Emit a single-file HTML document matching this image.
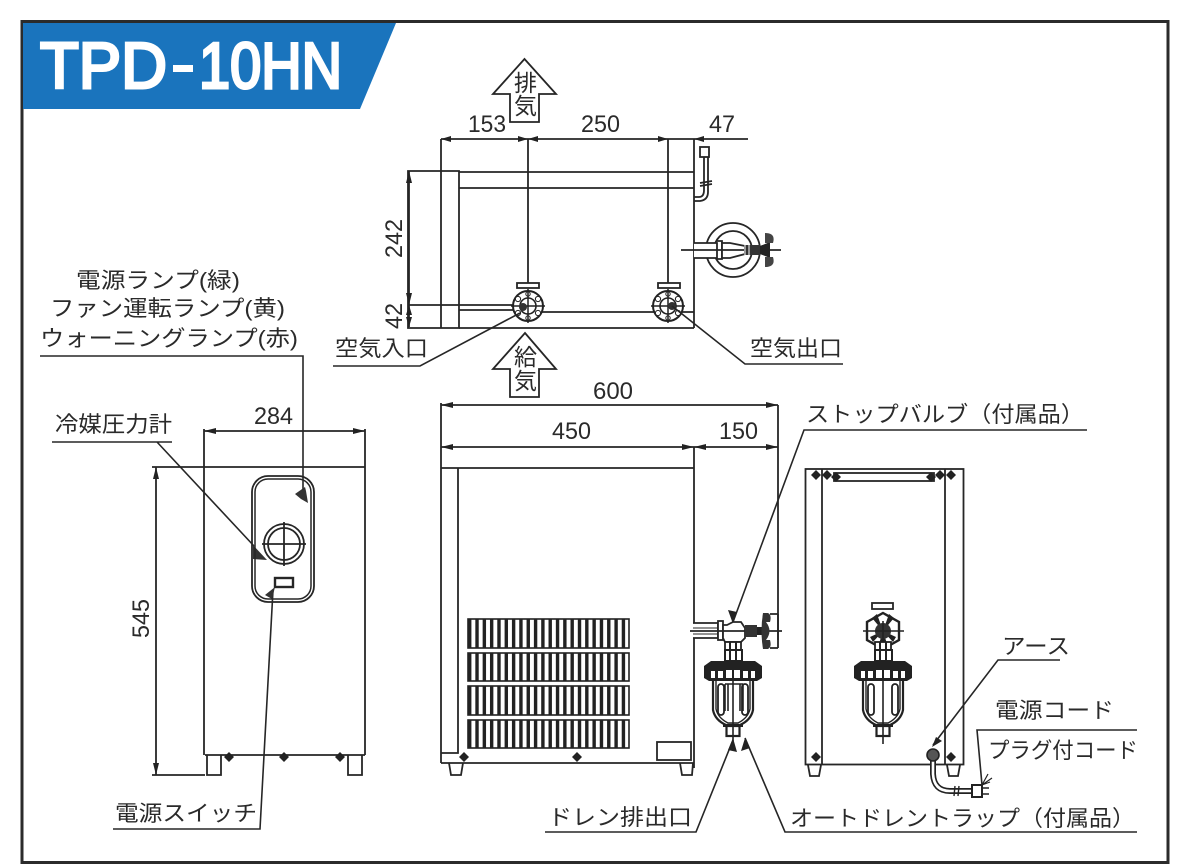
<!DOCTYPE html>
<html><head><meta charset="utf-8"><style>
html,body{margin:0;padding:0;background:#fff}
svg{display:block}
.l{fill:none;stroke:#262626;stroke-width:1.8}
.t{stroke:#262626;stroke-width:1.6;fill:none}
text{fill:#2a2a2a}
.j{font-family:"Liberation Sans","Noto Sans CJK JP",sans-serif;font-size:22px}
.n{font-family:"Liberation Sans",sans-serif;font-size:24px}
.ttl{font-family:"Liberation Sans",sans-serif;font-size:65px;fill:#fff;stroke:#fff;stroke-width:3}
</style></head><body>
<svg width="1200" height="865" viewBox="0 0 1200 865" xmlns="http://www.w3.org/2000/svg">
<defs>
<pattern id="g" x="468" y="0" width="7.32" height="10" patternUnits="userSpaceOnUse"><rect width="3.4" height="10" fill="#222"/></pattern>
<g id="d"><path d="M0-5 5 0 0 5-5 0Z" fill="#222"/></g>
<g id="bowl">
<rect x="-8" y="12" width="16" height="8" fill="#fff" stroke="#222" stroke-width="1.8"/>
<rect x="-8" y="20" width="17" height="11" fill="#fff" stroke="#222" stroke-width="2"/>
<path d="M-3 12V31M3 12V31" stroke="#222" stroke-width="2"/>
<path d="M-20 49V80Q-18 90 -7 95H7Q18 90 20 80V49" fill="#fff" stroke="#222" stroke-width="2.2"/>
<path d="M-17 49V79Q-15 88 -5 93H5Q15 88 17 79V49" fill="none" stroke="#222" stroke-width="1.4"/>
<path d="M-22 31H22L29 36V48L24 51H-24L-29 48V36Z" fill="#222"/>
<rect x="-22" y="41" width="4" height="7" fill="#fff"/><rect x="-15" y="41" width="5" height="7" fill="#fff"/><rect x="-7" y="40" width="6" height="8" fill="#fff"/><rect x="1" y="40" width="6" height="8" fill="#fff"/><rect x="10" y="41" width="5" height="7" fill="#fff"/><rect x="18" y="41" width="4" height="7" fill="#fff"/>
<rect x="-15" y="54" width="6" height="31" rx="3" fill="#fff" stroke="#222" stroke-width="1.8"/>
<rect x="9" y="54" width="6" height="31" rx="3" fill="#fff" stroke="#222" stroke-width="1.8"/>
<path d="M-10 94H10V97H-10Z" fill="#222"/>
<rect x="-6.500" y="96" width="13" height="10" fill="#fff" stroke="#222" stroke-width="2.2"/>
<path d="M0 40V114" stroke="#222" stroke-width="1.6"/>
</g>
<g id="fl">
<circle r="15" fill="#fff" stroke="#222" stroke-width="2"/>
<circle r="8" fill="none" stroke="#222" stroke-width="1.6"/>
<circle cx="-10" cy="-7" r="2.6" fill="#fff" stroke="#222"/><circle cx="10" cy="-7" r="2.6" fill="#fff" stroke="#222"/><circle cx="-10" cy="7" r="2.6" fill="#fff" stroke="#222"/><circle cx="10" cy="7" r="2.6" fill="#fff" stroke="#222"/><circle cy="-12" r="2.2" fill="#fff" stroke="#222"/><circle cy="12" r="2.2" fill="#fff" stroke="#222"/>
<path d="M-17 0H17M0-17V17" stroke="#222" stroke-width="1.5"/>
</g>
</defs>
<rect width="1200" height="865" fill="#fff"/>
<rect x="22" y="21.500" width="1146" height="841" fill="none" stroke="#2b2b2b" stroke-width="3"/>
<path d="M23 23H396L360 109H23Z" fill="#1a74bd"/>
<text class="ttl" x="40" y="88" textLength="127" lengthAdjust="spacingAndGlyphs">TPD</text>
<rect x="173" y="65" width="20" height="7" fill="#fff"/>
<text class="ttl" x="199" y="88" textLength="143" lengthAdjust="spacingAndGlyphs">10HN</text>

<!-- top view -->
<g class="l">
<path d="M408 171H459V328H408Z"/>
<path d="M441 139V328M528 139V283M668 139V283M694 139V328"/>
<path d="M459 172H694M459 188H694M459 328H694M408 305H515M459 310H515M541 312H655M681 312H694"/>
<path d="M441 139H748" />
<path d="M409 171V327"/>
<path d="M694 201H700Q708 200 708 192V156M694 197H699Q704 197 704 190V156"/>
<rect x="700" y="147" width="9" height="10" fill="#fff"/>
<path d="M700 183 712 181M700 186 712 184"/>
<path d="M524.500 59 556 94H539V122H510V94H493Z"/>
<path d="M525 333 556 369H539V397H510V369H493Z"/>
<rect x="517" y="283" width="22" height="5"/><rect x="658" y="283" width="22" height="5"/>
<circle cx="733" cy="250" r="27"/><circle cx="733" cy="250" r="19"/>
<path d="M694 243H717V258H694M717 241H722V259H717" fill="#fff"/>
<path d="M722 243H730L745 246V254L730 258H722Z" fill="#fff"/>
<path d="M681 250H781"/>
</g>
<use href="#fl" x="528" y="306"/><use href="#fl" x="668" y="306"/>
<circle cx="523" cy="307" r="4" fill="#333"/><circle cx="672" cy="306" r="4" fill="#333"/>
<path d="M744 245H760V255H744Z" fill="#333"/>
<path d="M745 245V255M749 245V255" stroke="#fff"/>
<path d="M760 246V254L770 258V242Z" fill="#222"/>
<path d="M765 233Q776 233 773 243H765ZM765 267Q776 267 773 257H765Z" fill="#444"/>
<text class="n" x="468" y="132" textLength="38" lengthAdjust="spacingAndGlyphs">153</text>
<text class="n" x="581" y="132" textLength="39" lengthAdjust="spacingAndGlyphs">250</text>
<text class="n" x="709" y="132" textLength="26" lengthAdjust="spacingAndGlyphs">47</text>
<text class="n" transform="translate(402,258) rotate(-90)" textLength="39" lengthAdjust="spacingAndGlyphs">242</text>
<text class="n" transform="translate(402,329) rotate(-90)" textLength="26" lengthAdjust="spacingAndGlyphs">42</text>
<text class="j" x="514" y="91" style="font-size:23px">排</text>
<text class="j" x="514" y="114" style="font-size:23px">気</text>
<text class="j" x="514" y="365" style="font-size:23px">給</text>
<text class="j" x="514" y="389" style="font-size:23px">気</text>
<path d="M441 139l10-3v6zM528 139l-10-3v6zM528 139l10-3v6zM668 139l-10-3v6zM694 139l10-3v6zM409 171l-3 12h6zM409 305l-3-12h6zM409 305l-3 10h6zM409 327l-3-10h6z" fill="#222"/>

<text class="j" x="76" y="288" textLength="164" lengthAdjust="spacingAndGlyphs">電源ランプ(緑)</text>
<text class="j" x="50" y="316" textLength="235" lengthAdjust="spacingAndGlyphs">ファン運転ランプ(黄)</text>
<text class="j" x="40" y="346" textLength="258" lengthAdjust="spacingAndGlyphs">ウォーニングランプ(赤)</text>
<text class="j" x="55" y="432" textLength="117" lengthAdjust="spacingAndGlyphs">冷媒圧力計</text>
<text class="j" x="335" y="356" textLength="93" lengthAdjust="spacingAndGlyphs">空気入口</text>
<text class="j" x="750" y="356" textLength="92" lengthAdjust="spacingAndGlyphs">空気出口</text>
<text class="j" x="115" y="821" textLength="142" lengthAdjust="spacingAndGlyphs">電源スイッチ</text>
<text class="j" x="806" y="422" textLength="278" lengthAdjust="spacingAndGlyphs">ストップバルブ（付属品）</text>
<text class="j" x="548" y="825" textLength="144" lengthAdjust="spacingAndGlyphs">ドレン排出口</text>
<text class="j" x="790" y="826" textLength="345" lengthAdjust="spacingAndGlyphs">オートドレントラップ（付属品）</text>
<text class="j" x="1002" y="654" textLength="68" lengthAdjust="spacingAndGlyphs">アース</text>
<text class="j" x="995" y="718" textLength="119" lengthAdjust="spacingAndGlyphs">電源コード</text>
<text class="j" x="988" y="758" textLength="150" lengthAdjust="spacingAndGlyphs">プラグ付コード</text>

<!-- leaders -->
<g class="t">
<path d="M40 356H303V490"/>
<path d="M52 442H172M157 442 254 546"/>
<path d="M113 829H260L273 590"/>
<path d="M333 366H420L520 313"/>
<path d="M843 364H745L672 306"/>
<path d="M1087 430H804L733 622"/>
<path d="M545 832H696L733 740"/>
<path d="M1137 832H785L745 738"/>
<path d="M1060 660H998L933 745"/>
<path d="M1137 730H977L982 785"/>
</g>
<path d="M253 545 267 560 253 559ZM295 494 305 487 306 491 308 503 301 499ZM265 595 275 587 272 599Z" fill="#333"/>
<path d="M733 624 728 610 737 612ZM733 738 728 750 737 752ZM745 738 741 751 750 748ZM932 747 936 737 942 741Z" fill="#222"/>

<!-- front view -->
<g class="l">
<path d="M204 429V755M365 429V755M152 467H365M205 755H365M152 775H205M156 467V775M204 431H365"/>
<path d="M207 755V775H221V755M348 755V775H362V755"/>
<rect x="252" y="476" width="62" height="126" rx="16" stroke-width="1.8"/>
<rect x="255" y="479" width="56" height="120" rx="13" stroke-width="1.5"/>
<circle cx="284" cy="544" r="20"/><circle cx="284" cy="544" r="16"/>
<path d="M262 544H306M284 522V566"/>
<rect x="275" y="578" width="18" height="9" stroke-width="2.4"/>
</g>
<path d="M156 467l-3 12h6zM156 775l-3-12h6zM204 431l12-3v6zM365 431l-12-3v6z" fill="#222"/>
<use href="#d" x="229" y="757"/><use href="#d" x="284" y="757"/><use href="#d" x="340" y="757"/>
<text class="n" x="254" y="424" textLength="39" lengthAdjust="spacingAndGlyphs">284</text>
<text class="n" transform="translate(149,638) rotate(-90)" textLength="39" lengthAdjust="spacingAndGlyphs">545</text>

<!-- side view -->
<g class="l">
<path d="M441 403V763M694 447V768M778 405V640M441 405H778M441 447H778"/>
<path d="M441 468H694M458 468V753H441M441 763H694"/>
<rect x="657" y="742" width="34" height="18"/>
<path d="M449 763 451 775H461L463 763M680 763 682 775H692L693 763"/>
</g>
<path d="M441 405l12-3v6zM778 405l-12-3v6zM441 447l12-3v6zM694 447l-12-3v6zM694 447l12-3v6zM778 447l-12-3v6z" fill="#222"/>
<use href="#d" x="464" y="757"/><use href="#d" x="577" y="757"/>
<text class="n" x="593" y="399" textLength="40" lengthAdjust="spacingAndGlyphs">600</text>
<text class="n" x="552" y="439" textLength="39" lengthAdjust="spacingAndGlyphs">450</text>
<text class="n" x="719" y="439" textLength="39" lengthAdjust="spacingAndGlyphs">150</text>
<g fill="url(#g)" stroke="#222" stroke-width="1.6">
<rect x="468" y="619" width="161" height="29"/>
<rect x="468" y="653" width="161" height="28"/>
<rect x="468" y="686" width="161" height="29"/>
<rect x="468" y="720" width="161" height="28"/>
</g>

<!-- filter with valve, side -->
<g class="l" stroke-width="2">
<path d="M693 623H718V638H693" fill="#fff"/>
<rect x="718" y="621" width="5" height="19" fill="#fff"/>
<path d="M723 625H727L733 622H741L745 628V638L741 642H725L723 638Z" fill="#fff"/>
<path d="M778 614V648"/>
<path d="M770 614H778M770 648H778"/>
<path d="M690 631H782"/>
<path d="M693 628H718M693 634H718" stroke-width="1"/>
</g>
<rect x="745" y="625" width="12" height="12" fill="#333"/>
<path d="M757 627H762V635H757Z" fill="#222"/>
<path d="M763 613H768Q772 615 770 622H766Q773 631 766 640H770Q772 647 768 649H763Q760 631 763 613Z" fill="#333"/>
<use href="#bowl" x="733" y="630"/>
<path d="M725 684V711M743 684V711M728 684V711M740 684V711" stroke="#222" stroke-width="1.6"/>
<path d="M725 684H743" stroke="#222" stroke-width="1.6"/>

<!-- rear view -->
<g class="l">
<rect x="805.500" y="469" width="158" height="295.500"/>
<path d="M822 469V764M945 469V764"/>
<rect x="834" y="473" width="100" height="8"/>
<path d="M808 765 810 776H819L821 765M947 765 949 776H958L960 765"/>
<rect x="872" y="603" width="21" height="6"/>
</g>
<use href="#d" x="816" y="475"/><use href="#d" x="827" y="475"/><use href="#d" x="836" y="477"/><use href="#d" x="951" y="475"/><use href="#d" x="940" y="475"/><use href="#d" x="931" y="477"/><use href="#d" x="816" y="757"/><use href="#d" x="951" y="757"/>
<path d="M883 613 899 622V640L883 649 867 640V622Z" fill="#fff" stroke="#222" stroke-width="2.4"/>
<path d="M883 631 872 618 877 614ZM883 631 894 618 889 614ZM883 631 870 637 873 642ZM883 631 896 637 893 642ZM883 631 878 647 888 647Z" fill="#222"/>
<circle cx="883" cy="631" r="8" fill="#333"/>
<path d="M863 631H904M883 621V641" stroke="#222" stroke-width="1.6"/>
<use href="#bowl" x="883" y="630"/>
<path d="M933 761V774Q934 791 950 791H972" fill="none" stroke="#222" stroke-width="6"/>
<path d="M933 761V774Q934 791 950 791H972" fill="none" stroke="#fff" stroke-width="2.6"/>
<circle cx="933" cy="755" r="6" fill="#555" stroke="#222" stroke-width="1.6"/>
<path d="M955 786 954 796M959 786 958 796" stroke="#222" stroke-width="1.4"/>
<rect x="972" y="785" width="10" height="12" fill="#fff" stroke="#222" stroke-width="2"/>
<path d="M982 788H989M982 794H989" stroke="#222" stroke-width="1.6"/>
<path d="M982 785 992 778M982 785 990 782M982 785 988 774" stroke="#222" stroke-width="1.2"/>
</svg>
</body></html>
